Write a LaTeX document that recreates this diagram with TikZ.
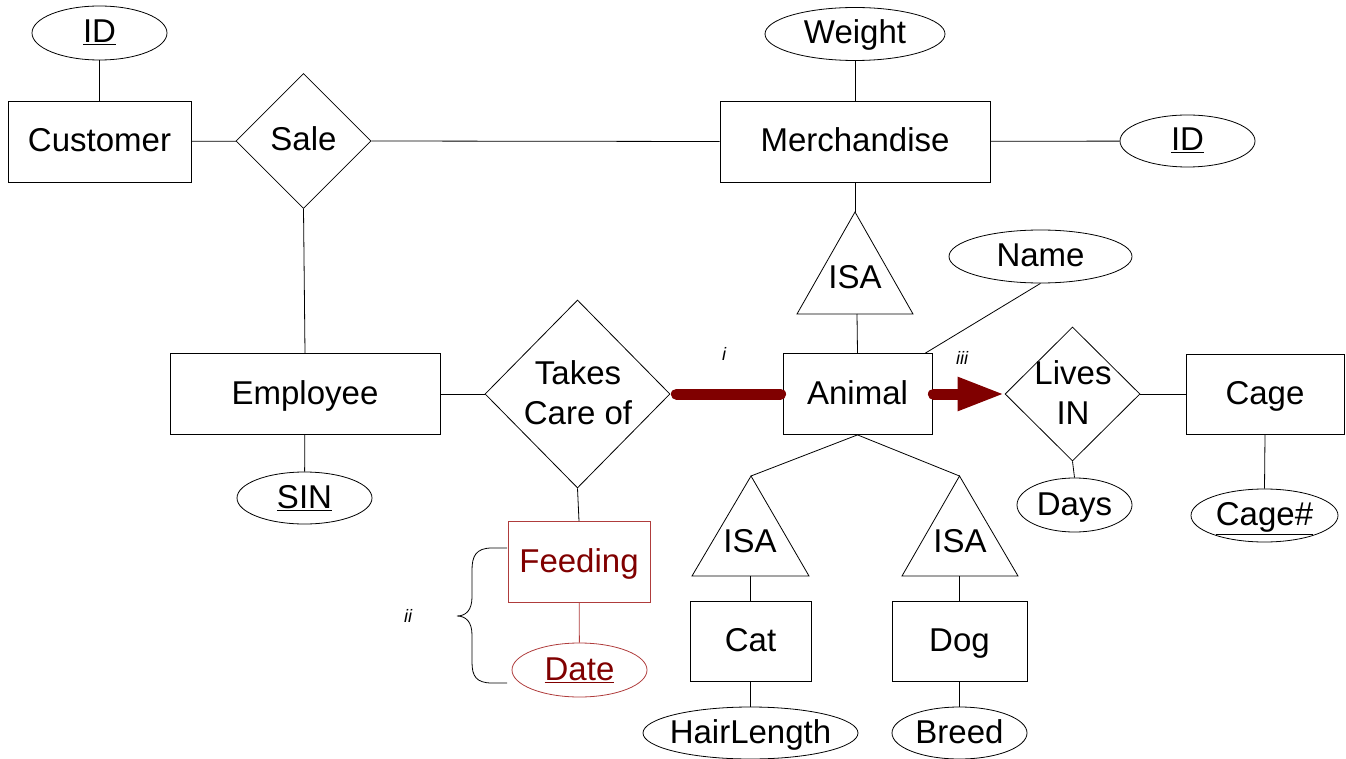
\documentclass[tikz,border=0pt]{standalone}
\usepackage{fontspec}
\setmainfont{Liberation Sans}
\usetikzlibrary{shapes.geometric,arrows.meta,calc}
\definecolor{dred}{RGB}{128,0,0}
\definecolor{mred}{RGB}{175,60,60}
\newcommand{\zw}[1]{\makebox[0pt][c]{#1}}
\begin{document}
\begin{tikzpicture}[x=1pt,y=-1pt,
  every node/.style={font=\fontsize{33}{40}\selectfont, inner sep=0pt},
  one/.style={text height=27pt, text depth=7pt},
  ent/.style={draw, rectangle, line width=0.8pt, one},
  attr/.style={draw, ellipse, line width=0.8pt, one},
  rel/.style={draw, diamond, line width=0.8pt},
  conn/.style={line width=0.8pt},
  isa/.style={draw, line width=0.8pt},
  lbl/.style={font=\fontsize{18}{20}\selectfont\itshape}]
\useasboundingbox (0,0) rectangle (1346,759);

% entities
\node[ent, minimum width=183pt, minimum height=81pt] (cust) at (99.5,141.5) {Customer};
\node[ent, minimum width=270pt, minimum height=81pt] (merch) at (855,141.5) {Merchandise};
\node[ent, minimum width=270pt, minimum height=81pt] (emp) at (305,394) {Employee};
\node[ent, minimum width=149pt, minimum height=81pt] (animal) at (857.5,394) {Animal};
\node[ent, minimum width=158pt, minimum height=80pt] (cage) at (1265,394) {Cage};
\node[ent, minimum width=121pt, minimum height=80pt] (cat) at (750.5,641) {Cat};
\node[ent, minimum width=135pt, minimum height=80pt] (dog) at (959.5,641) {Dog};
\node[ent, draw=mred, text=dred, minimum width=142pt, minimum height=81pt] (feed) at (579,562) {Feeding};

% attributes
\node[attr, minimum width=135pt, minimum height=54pt] (cid) at (99.5,33) {\zw{\underline{ID}}};
\node[attr, minimum width=180pt, minimum height=53pt] (weight) at (855,34) {\zw{Weight}};
\node[attr, minimum width=135pt, minimum height=52pt] (mid) at (1187.5,141) {\zw{\underline{ID}}};
\node[attr, minimum width=183pt, minimum height=53pt] (name) at (1040.5,256.5) {\zw{Name}};
\node[attr, minimum width=135pt, minimum height=52pt] (sin) at (304.5,498) {\zw{\underline{SIN}}};
\node[attr, minimum width=115pt, minimum height=54pt] (days) at (1074.5,505) {\zw{Days}};
\node[attr, minimum width=147pt, minimum height=53pt] (cagenum) at (1264.5,515.5) {\zw{\underline{Cage\#}}};
\node[attr, minimum width=215pt, minimum height=52pt] (hair) at (750.5,733) {\zw{HairLength}};
\node[attr, minimum width=135pt, minimum height=52pt] (breed) at (959.5,733) {\zw{Breed}};
\node[attr, draw=mred, text=dred, minimum width=135pt, minimum height=54pt] (date) at (579.5,670) {\zw{\underline{Date}}};

% relationships
\node[rel, minimum width=135pt, minimum height=135pt] (sale) at (303.5,141) {};
\node[one] (saletext) at (sale) {Sale};
\node[rel, minimum width=185pt, minimum height=188pt] (tc) at (577.5,394) {};
\node[align=center] (tctext) at (578,393) {Takes\\Care of};
\node[rel, minimum width=135pt, minimum height=134pt] (lives) at (1072.5,394) {};
\node[align=center] (livestext) at (1073,393) {Lives\\IN};

% ISA triangles
\coordinate (isa0top) at (855,212);
\draw[isa] (isa0top) -- (913,314) -- (797,314) -- cycle;
\coordinate (isa0bot) at (857,314);
\node[one] (isa0) at (855,279) {ISA};
\coordinate (isa1top) at (751,476);
\draw[isa] (isa1top) -- (809,576) -- (692,576) -- cycle;
\coordinate (isa1bot) at (750.5,576);
\node[one] (isa1) at (750,542) {ISA};
\coordinate (isa2top) at (959.5,476);
\draw[isa] (isa2top) -- (1018,576) -- (902,576) -- cycle;
\coordinate (isa2bot) at (959.5,576);
\node[one] (isa2) at (960,542) {ISA};

% connectors
\draw[conn] (cid) -- (cust);
\draw[conn] (cust) -- (sale);
\draw[conn] (sale.east) -- (merch.west);
\draw[conn] (weight) -- (merch);
\draw[conn] (merch) -- (mid);
\draw[conn] (merch.south) -- (isa0top);
\draw[conn] (isa0bot) -- (animal.north);
\draw[conn] (sale.south) -- (emp.north);
\draw[conn] (emp) -- (tc);
\draw[conn] (emp) -- (sin);
\draw[conn] (tc.south) -- (feed.north);
\draw[conn, draw=mred] (feed) -- (date);
\coordinate (animalnr) at ($(animal.north east)+(-7,0)$);
\draw[conn] (name.south) -- (animalnr);
\draw[conn] (lives) -- (cage);
\draw[conn] (lives.south) -- (days.north);
\draw[conn] (cage.south) -- (cagenum.north);
\draw[conn] (animal.south) -- (isa1top);
\draw[conn] (animal.south) -- (isa2top);
\draw[conn] (isa1bot) -- (cat.north);
\draw[conn] (isa2bot) -- (dog.north);
\draw[conn] (cat.south) -- (hair.north);
\draw[conn] (dog.south) -- (breed.north);

% thick participation links
\draw[dred, line width=11pt, line cap=round] ($(tc.east)+(6,0)$) -- ($(animal.west)+(-2,0)$);
\draw[dred, line width=11pt, line cap=round, -{Triangle[length=47pt,width=31pt]}] ($(animal.east)+(1,0)$) -- (lives.west);

% labels
\node[lbl] (li) at (724,354) {i};
\node[lbl] (liii) at (962,358) {iii};
\node[lbl] (lii) at (408,616) {ii};

% brace
\coordinate (bt) at (507,548);
\coordinate (bb) at (507,683);
\draw[line width=0.8pt] (bt) -- (492,548) .. controls (476,548) and (472,556) .. (472,570) -- (472,597) .. controls (472,610) and (466,616) .. (457,616) .. controls (466,616) and (472,622) .. (472,635) -- (472,662) .. controls (472,676) and (476,683) .. (492,683) -- (bb);
\end{tikzpicture}
\end{document}
